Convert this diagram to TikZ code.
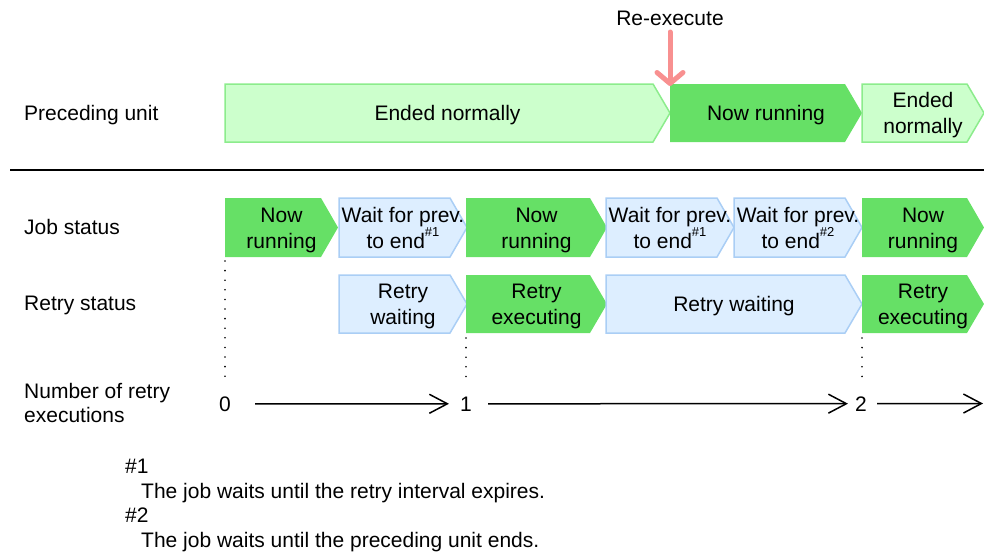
\documentclass[tikz,border=0pt]{standalone}
\usepackage{fontspec}
\setmainfont{Liberation Sans}
\usetikzlibrary{arrows.meta}
\definecolor{dkgreen}{RGB}{102,224,102}
\definecolor{ltgreen}{RGB}{204,255,204}
\definecolor{ltgreenline}{RGB}{140,236,140}
\definecolor{ltblue}{RGB}{221,238,255}
\definecolor{ltblueline}{RGB}{170,206,245}
\definecolor{reexred}{RGB}{248,144,144}
\newcommand\sups[1]{\smash{\raisebox{0.55em}{\fontsize{13}{13}\selectfont #1}}}
% #1 name, #2 x1, #3 x2, #4 y1, #5 y2, #6 style, #7 text
\newcommand\phasebox[7]{%
  \path[#6] (#2,#4) -- ({#3-17},#4) -- (#3,{(#4+#5)/2}) -- ({#3-17},#5) -- (#2,#5) -- cycle;
  \node[txt] (#1) at ({(#2+#3)/2},{(#4+#5)/2}) {#7};
}
\begin{document}
\begin{tikzpicture}[x=1pt,y=-1pt,
  dkbox/.style={fill=dkgreen},
  grbox/.style={fill=ltgreen, draw=ltgreenline, line width=1.5pt},
  blbox/.style={fill=ltblue, draw=ltblueline, line width=1.5pt},
  txt/.style={font=\fontsize{21}{26}\selectfont, align=center, inner sep=0pt, yshift=-2.3pt},
  lbl/.style={font=\fontsize{21}{24}\selectfont, anchor=base west, align=left, inner sep=0pt},
  num/.style={font=\fontsize{21}{24}\selectfont, anchor=base, inner sep=0pt},
  guide/.style={line width=1.8pt, dash pattern=on 0pt off 9.6pt, line cap=round, black},
  numarrow/.style={line width=1.5pt, -{Straight Barb[length=18pt,width=19pt]}},
  reexarrow/.style={line width=5pt, draw=reexred, line cap=round, -{Straight Barb[length=11pt,width=26pt,round]}}
]
\useasboundingbox (0,0) rectangle (984,555);

% left labels
\node[lbl] (lpre) at (24,120) {Preceding unit};
\node[lbl] (ljob) at (24,234) {Job status};
\node[lbl] (lret) at (24,310) {Retry status};
\node[lbl, anchor=west] (lnum) at (24,403) {Number of retry\\executions};

% separator
\draw[line width=2pt] (10,170) -- (984,170);

% preceding unit row
\phasebox{p1}{225}{670}{84}{142}{grbox}{Ended normally\strut}
\phasebox{p2}{670}{862}{84}{142}{dkbox}{Now running\strut}
\phasebox{p3}{862}{984}{84}{142}{grbox}{Ended\strut\\normally\strut}

% re-execute
\node[font=\fontsize{21}{26}\selectfont, inner sep=0pt, anchor=base] (rx) at (670,25) {Re-execute};
\coordinate (rxs) at (670,32);
\coordinate (rxe) at (670,86);
\draw[reexarrow] (rxs) -- (rxe);

% job status row
\phasebox{j1}{225}{338}{198}{257}{dkbox}{Now\strut\\running\strut}
\phasebox{j2}{339}{467}{198}{257}{blbox}{Wait for prev.\strut\\to end\sups{\#1}\strut}
\phasebox{j3}{466}{607}{198}{257}{dkbox}{Now\strut\\running\strut}
\phasebox{j4}{606}{734}{198}{257}{blbox}{Wait for prev.\strut\\to end\sups{\#1}\strut}
\phasebox{j5}{734}{862}{198}{257}{blbox}{Wait for prev.\strut\\to end\sups{\#2}\strut}
\phasebox{j6}{862}{984}{198}{257}{dkbox}{Now\strut\\running\strut}

% retry status row
\phasebox{r1}{339}{467}{275}{333}{blbox}{Retry\strut\\waiting\strut}
\phasebox{r2}{466}{607}{275}{333}{dkbox}{Retry\strut\\executing\strut}
\phasebox{r3}{606}{862}{275}{333}{blbox}{Retry waiting\strut}
\phasebox{r4}{862}{984}{275}{333}{dkbox}{Retry\strut\\executing\strut}

% guides
\coordinate (g0a) at (225,261); \coordinate (g0b) at (225,378);
\coordinate (g1a) at (466,338); \coordinate (g1b) at (466,378);
\coordinate (g2a) at (862,338); \coordinate (g2b) at (862,378);
\draw[guide] (g0a) -- (g0b);
\draw[guide] (g1a) -- (g1b);
\draw[guide] (g2a) -- (g2b);

% number of retry executions
\node[num] (n0) at (225,411) {0};
\node[num] (n1) at (466,411) {1};
\node[num] (n2) at (861,411) {2};
\coordinate (nend) at (983,403.5);
\draw[numarrow, shorten <=24pt, shorten >=11pt] (n0.east) -- (n1.west);
\draw[numarrow, shorten <=16pt, shorten >=7pt] (n1.east) -- (n2.west);
\draw[numarrow, shorten <=10pt] (n2.east) -- (nend);

% footnotes
\node[lbl] (f1) at (125,473) {\#1};
\node[lbl] (f1t) at (141,498) {The job waits until the retry interval expires.};
\node[lbl] (f2) at (125,522) {\#2};
\node[lbl] (f2t) at (141,547) {The job waits until the preceding unit ends.};
\end{tikzpicture}
\end{document}
